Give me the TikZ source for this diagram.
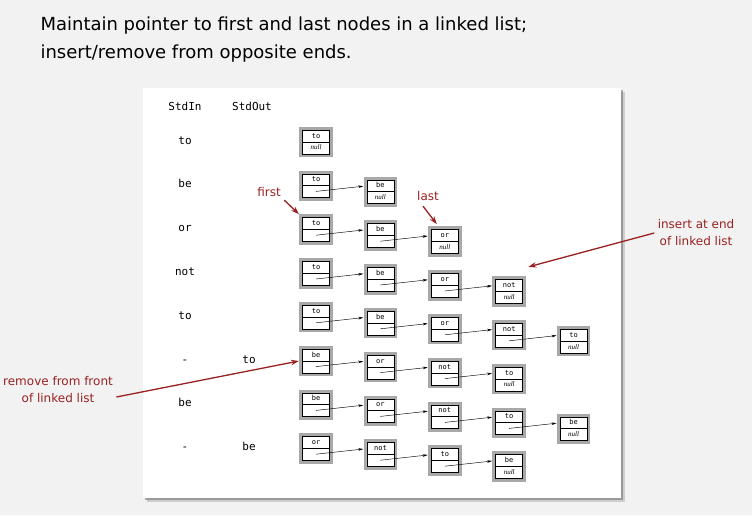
\documentclass[tikz,border=0pt]{standalone}
\usepackage{fontspec}
\setmainfont{DejaVu Sans}
\setmonofont{DejaVu Sans Mono}
\newfontfamily\nullserif{Liberation Serif}
\usetikzlibrary{shapes.multipart,calc,arrows.meta,shadows}

\definecolor{bgray}{rgb}{0.95 0.95 0.95}
\definecolor{boxgray}{rgb}{0.66 0.66 0.66}
\definecolor{bookred}{rgb}{0.6 0.13 0.13}

\newcommand\cellstrut{\rule[-2pt]{0pt}{8pt}}

\tikzset{
  lnode/.style={rectangle split, rectangle split parts=2, draw=black, fill=white,
    line width=0.7pt, preaction={draw=boxgray, line width=6.5pt},
    text width=25pt, align=center, inner xsep=1pt, inner ysep=1.6pt,
    text height=6pt, text depth=2pt, outer sep=3.6pt,
    font=\ttfamily\fontsize{7}{7}\selectfont},
  ptr/.style={-{Stealth[length=5pt,width=2.6pt]}, line width=0.45pt},
  note/.style={text=bookred, font=\fontsize{12}{17}\selectfont, align=center},
  hint/.style={bookred, line width=1.3pt, -{Stealth[length=8pt,width=5.5pt]}},
  col/.style={font=\ttfamily\fontsize{11}{11}\selectfont, anchor=base},
  heading/.style={anchor=base west, font=\fontsize{18}{18}\selectfont}
}

\begin{document}
\begin{tikzpicture}[x=1pt,y=-1pt]
\useasboundingbox[fill=bgray] (0,0) rectangle (752,515);

% title
\node[heading] (title1) at (37,30) {Maintain pointer to first and last nodes in a linked list;};
\node[heading] (title2) at (37,58) {insert/remove from opposite ends.};

% panel
\fill[white, drop shadow={shadow xshift=4pt, shadow yshift=-4pt, fill=black!45, opacity=0.35},
  drop shadow={shadow xshift=2pt, shadow yshift=-2pt, fill=black!60, opacity=0.5}] (143,88) rectangle (621,498);

% column heads
\node[col] (stdin) at (185,110) {StdIn};
\node[col] (stdout) at (252,110) {StdOut};

% standard input / output
\node[col] (in1) at (185,144) {to};
\node[col] (in2) at (185,187.8) {be};
\node[col] (in3) at (185,231.6) {or};
\node[col] (in4) at (185,275.4) {not};
\node[col] (in5) at (185,319.2) {to};
\node[col] (in6) at (185,363) {-};
\node[col] (in7) at (185,406.8) {be};
\node[col] (in8) at (185,450.6) {-};
\node[col] (out6) at (249,363) {to};
\node[col] (out8) at (249,450.6) {be};

% row 1
\node[lnode] (n11) at (316,142) {to\nodepart{two}\cellstrut{\nullserif\itshape null}};
% row 2
\node[lnode] (n21) at (316,185.8) {to\nodepart{two}\cellstrut};
\node[lnode] (n22) at (380.4,191.8) {be\nodepart{two}\cellstrut{\nullserif\itshape null}};
% row 3
\node[lnode] (n31) at (316,229.6) {to\nodepart{two}\cellstrut};
\node[lnode] (n32) at (380.4,235.6) {be\nodepart{two}\cellstrut};
\node[lnode] (n33) at (444.8,241.6) {or\nodepart{two}\cellstrut{\nullserif\itshape null}};
% row 4
\node[lnode] (n41) at (316,273.4) {to\nodepart{two}\cellstrut};
\node[lnode] (n42) at (380.4,279.4) {be\nodepart{two}\cellstrut};
\node[lnode] (n43) at (444.8,285.4) {or\nodepart{two}\cellstrut};
\node[lnode] (n44) at (509.2,291.4) {not\nodepart{two}\cellstrut{\nullserif\itshape null}};
% row 5
\node[lnode] (n51) at (316,317.2) {to\nodepart{two}\cellstrut};
\node[lnode] (n52) at (380.4,323.2) {be\nodepart{two}\cellstrut};
\node[lnode] (n53) at (444.8,329.2) {or\nodepart{two}\cellstrut};
\node[lnode] (n54) at (509.2,335.2) {not\nodepart{two}\cellstrut};
\node[lnode] (n55) at (573.6,341.2) {to\nodepart{two}\cellstrut{\nullserif\itshape null}};
% row 6
\node[lnode] (n61) at (316,361) {be\nodepart{two}\cellstrut};
\node[lnode] (n62) at (380.4,367) {or\nodepart{two}\cellstrut};
\node[lnode] (n63) at (444.8,373) {not\nodepart{two}\cellstrut};
\node[lnode] (n64) at (509.2,379) {to\nodepart{two}\cellstrut{\nullserif\itshape null}};
% row 7
\node[lnode] (n71) at (316,404.8) {be\nodepart{two}\cellstrut};
\node[lnode] (n72) at (380.4,410.8) {or\nodepart{two}\cellstrut};
\node[lnode] (n73) at (444.8,416.8) {not\nodepart{two}\cellstrut};
\node[lnode] (n74) at (509.2,422.8) {to\nodepart{two}\cellstrut};
\node[lnode] (n75) at (573.6,428.8) {be\nodepart{two}\cellstrut{\nullserif\itshape null}};
% row 8
\node[lnode] (n81) at (316,448.6) {or\nodepart{two}\cellstrut};
\node[lnode] (n82) at (380.4,454.6) {not\nodepart{two}\cellstrut};
\node[lnode] (n83) at (444.8,460.6) {to\nodepart{two}\cellstrut};
\node[lnode] (n84) at (509.2,466.6) {be\nodepart{two}\cellstrut{\nullserif\itshape null}};

% links
\draw[ptr] ($(n21.center)+(0,5.6)$) -- ($(n22.west)+(0,-5.6)$);
\draw[ptr] ($(n31.center)+(0,5.6)$) -- ($(n32.west)+(0,-5.6)$);
\draw[ptr] ($(n32.center)+(0,5.6)$) -- ($(n33.west)+(0,-5.6)$);
\draw[ptr] ($(n41.center)+(0,5.6)$) -- ($(n42.west)+(0,-5.6)$);
\draw[ptr] ($(n42.center)+(0,5.6)$) -- ($(n43.west)+(0,-5.6)$);
\draw[ptr] ($(n43.center)+(0,5.6)$) -- ($(n44.west)+(0,-5.6)$);
\draw[ptr] ($(n51.center)+(0,5.6)$) -- ($(n52.west)+(0,-5.6)$);
\draw[ptr] ($(n52.center)+(0,5.6)$) -- ($(n53.west)+(0,-5.6)$);
\draw[ptr] ($(n53.center)+(0,5.6)$) -- ($(n54.west)+(0,-5.6)$);
\draw[ptr] ($(n54.center)+(0,5.6)$) -- ($(n55.west)+(0,-5.6)$);
\draw[ptr] ($(n61.center)+(0,5.6)$) -- ($(n62.west)+(0,-5.6)$);
\draw[ptr] ($(n62.center)+(0,5.6)$) -- ($(n63.west)+(0,-5.6)$);
\draw[ptr] ($(n63.center)+(0,5.6)$) -- ($(n64.west)+(0,-5.6)$);
\draw[ptr] ($(n71.center)+(0,5.6)$) -- ($(n72.west)+(0,-5.6)$);
\draw[ptr] ($(n72.center)+(0,5.6)$) -- ($(n73.west)+(0,-5.6)$);
\draw[ptr] ($(n73.center)+(0,5.6)$) -- ($(n74.west)+(0,-5.6)$);
\draw[ptr] ($(n74.center)+(0,5.6)$) -- ($(n75.west)+(0,-5.6)$);
\draw[ptr] ($(n81.center)+(0,5.6)$) -- ($(n82.west)+(0,-5.6)$);
\draw[ptr] ($(n82.center)+(0,5.6)$) -- ($(n83.west)+(0,-5.6)$);
\draw[ptr] ($(n83.center)+(0,5.6)$) -- ($(n84.west)+(0,-5.6)$);

% annotations
\node[note] (first) at (269,192) {first};
\node[note] (last) at (428,196) {last};
\node[note] (insert) at (696,233) {insert at end\\of linked list};
\node[note] (remove) at (58,390) {remove from front\\of linked list};
\draw[hint] (first.south east) -- (n31.north west);
\draw[hint] ($(last.south)+(-5,2)$) -- ($(n33.north)+(-8,-2)$);
\draw[hint] (insert.west) -- ($(n44.north east)+(2,-9)$);
\draw[hint] ($(remove.east)+(0,7)$) -- (n61.west);
\end{tikzpicture}
\end{document}
